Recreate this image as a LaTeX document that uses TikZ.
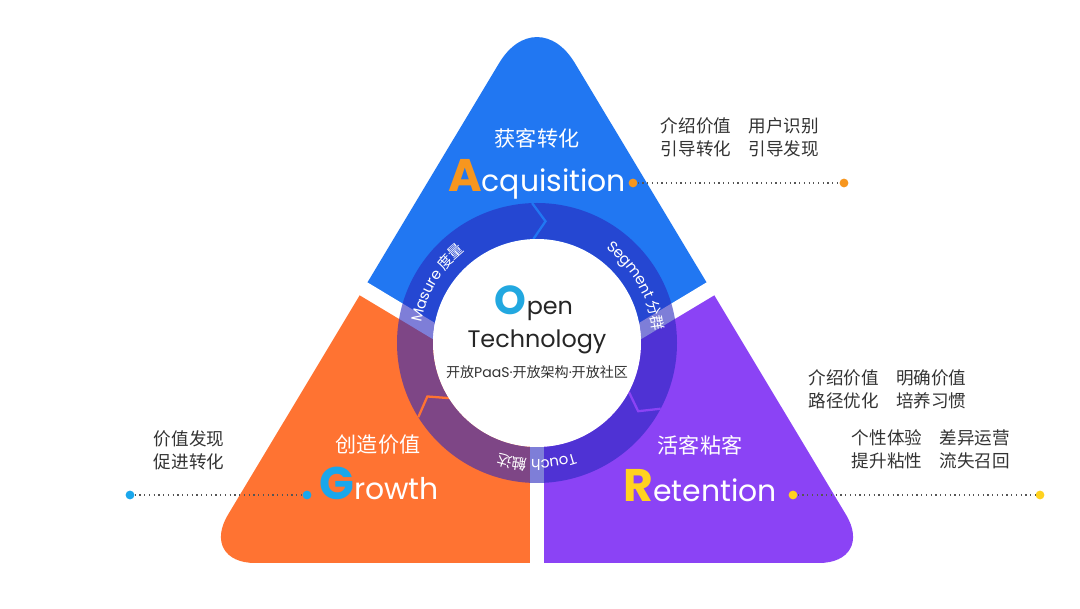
\documentclass[tikz,border=0pt]{standalone}
\usepackage{fontspec}
\setmainfont{Poppins}
\newfontfamily\cjk{Noto Sans CJK SC}
\usetikzlibrary{calc,decorations.text}
\definecolor{acqblue}{HTML}{2177F2}
\definecolor{groorange}{HTML}{FF7332}
\definecolor{retpurple}{HTML}{8B43F5}
\definecolor{ringblue}{HTML}{2828BE}
\definecolor{letA}{HTML}{F7961E}
\definecolor{letG}{HTML}{1AA7EC}
\definecolor{letR}{HTML}{FFD21F}
\definecolor{openO}{HTML}{22A8E0}
\definecolor{txtgray}{HTML}{333333}
\definecolor{dotgray}{HTML}{555555}
\newcommand\tripath{(537,46) [rounded corners=32pt] -- (875,46) [rounded corners=42pt] -- (537,609) [rounded corners=32pt] -- (199,46) -- cycle}
\newcommand\ringlat{\fontsize{8.5pt}{10pt}\selectfont\color{white}}
\newcommand\ringcjk{\cjk\fontsize{8.5pt}{10pt}\selectfont\color{white}}

\begin{document}
\begin{tikzpicture}[x=0.02cm,y=0.02cm,
  title/.style={text=white,font=\cjk\fontsize{12pt}{14pt}\selectfont},
  word/.style={text=white,anchor=base,inner sep=0pt,font=\fontsize{17pt}{20pt}\selectfont},
  side/.style={text=txtgray,align=left,font=\cjk\fontsize{10pt}{13pt}\selectfont},
  dot/.style={circle,inner sep=0pt,minimum size=5pt},
  leader/.style={dotgray,dotted,line width=0.7pt},
  gap/.style={white,line width=8.5pt},
  chev/.style={line width=1.3pt},
  ringtext/.style 2 args={decorate,decoration={text along path,text align=center,raise=-3pt,text={|\ringlat|#1 |\ringcjk|#2}}}]
    \fill[white] (0,0) rectangle (1080,609);
    \useasboundingbox (0,0) rectangle (1080,609);
    \coordinate (P) at (537,216);
    \coordinate (C) at (537,266);
    % three parts
    \begin{scope}
      \clip (P) -- ++(149:700) -- (-100,1000) -- (1200,1000) -- ($(P)+(31:700)$) -- cycle;
      \fill[acqblue] \tripath;
    \end{scope}
    \begin{scope}
      \clip (P) -- ++(149:700) -- (-100,-100) -- (537,-100) -- cycle;
      \fill[groorange] \tripath;
    \end{scope}
    \begin{scope}
      \clip (P) -- (537,-100) -- (1200,-100) -- ($(P)+(31:700)$) -- cycle;
      \fill[retpurple] \tripath;
    \end{scope}
    \draw[gap] (P) -- ++(149:300);
    \draw[gap] (P) -- ++(31:300);
    \draw[gap] (P) -- ++(270:300);
    % ring
    \fill[ringblue,fill opacity=0.6,even odd rule] (C) circle[radius=140] (C) circle[radius=104];
    \draw[chev,acqblue] ($(C)+(92:104)$) -- ($(C)+(86:122)$) -- ($(C)+(92:140)$);
    \draw[chev,groorange] ($(C)+(212:104)$) -- ($(C)+(206:122)$) -- ($(C)+(212:140)$);
    \draw[chev,retpurple] ($(C)+(332:104)$) -- ($(C)+(326:122)$) -- ($(C)+(332:140)$);
    \fill[white] (C) circle[radius=104];
    \path[ringtext={Masure}{度量}] ($(C)+(189:122)$) arc[start angle=189,end angle=109,radius=122];
    \path[ringtext={Segment}{分群}] ($(C)+(70:122)$) arc[start angle=70,end angle=-10,radius=122];
    \path[ringtext={Touch}{触达}] ($(C)+(310:122)$) arc[start angle=310,end angle=230,radius=122];
    % centre
    \node[anchor=base,inner sep=0pt,text=black!85,font=\fontsize{13.6pt}{16pt}\selectfont] (open) at (534,294) {{\color{openO}\bfseries\fontsize{23pt}{25pt}\selectfont O}pen};
    \node[anchor=base,inner sep=0pt,text=black!85,font=\fontsize{13.6pt}{16pt}\selectfont] (tech) at (537,261) {Technology};
    \node[text=txtgray,font=\fontsize{8pt}{9pt}\selectfont] (sub) at (537,237) {{\cjk 开放}PaaS·{\cjk 开放架构}·{\cjk 开放社区}};
    % Acquisition
    \node[title] (tA) at (537,471) {获客转化};
    \node[word] (wA) at (537,417) {{\color{letA}\bfseries\fontsize{26pt}{28pt}\selectfont A}cquisition};
    \node[dot,fill=letA] (aL) at (633,426) {};
    \node[dot,fill=letA] (aR) at (844,426) {};
    \draw[leader] (aL) -- (aR);
    \node[side] (sA) at (740,471.5) {介绍价值　用户识别\\引导转化　引导发现};
    % Growth
    \node[title] (tG) at (378,164) {创造价值};
    \node[word] (wG) at (379,109) {{\color{letG}\bfseries\fontsize{26pt}{28pt}\selectfont G}rowth};
    \node[dot,fill=letG] (gL) at (130,114) {};
    \node[dot,fill=letG] (gR) at (307,114) {};
    \draw[leader] (gL) -- (gR);
    \node[side] (sG) at (189,158.5) {价值发现\\促进转化};
    % Retention
    \node[title] (tR) at (700,164) {活客粘客};
    \node[word] (wR) at (700,107) {{\color{letR}\bfseries\fontsize{26pt}{28pt}\selectfont R}etention};
    \node[dot,fill=letR] (rL) at (793,114) {};
    \node[dot,fill=letR] (rR) at (1040,114) {};
    \draw[leader] (rL) -- (rR);
    \node[side] (sR1) at (887.5,220) {介绍价值　明确价值\\路径优化　培养习惯};
    \node[side] (sR2) at (931,160) {个性体验　差异运营\\提升粘性　流失召回};
  \end{tikzpicture}
\end{document}
